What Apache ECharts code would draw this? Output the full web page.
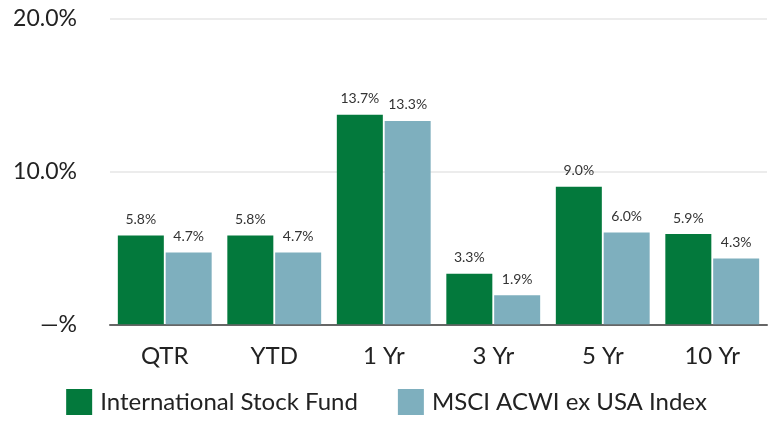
<!DOCTYPE html>
<html>
<head>
<meta charset="utf-8">
<script src="https://cdn.jsdelivr.net/npm/echarts@6/dist/echarts.min.js"></script>
<style>
  html, body { margin: 0; padding: 0; background: #fff; }
  #chart { width: 773px; height: 423px; }
</style>
</head>
<body>
<div id="chart"></div>
<script>
//Données
const categories = ['QTR', 'YTD', '1 Yr', '3 Yr', '5 Yr', '10 Yr'];
const fundValues = [5.8, 5.8, 13.7, 3.3, 9.0, 5.9];
const indexValues = [4.7, 4.7, 13.3, 1.9, 6.0, 4.3];
const seriesNames = ['International Stock Fund', 'MSCI ACWI ex USA Index'];
const yTickLabels = { 0: '—%', 10: '10.0%', 20: '20.0%' };

const font = 'Lato, "Open Sans", sans-serif';
const green = '#03793c';
const blue = '#7eafbe';

let chart = echarts.init(document.getElementById('chart'));

//Étiquettes au-dessus des barres
const barLabel = {
  show: true,
  position: 'top',
  distance: 9,
  fontFamily: font,
  fontSize: 14,
  color: '#333',
  formatter: p => p.value.toFixed(1) + '%'
};

chart.setOption({
  backgroundColor: '#fff',
  animation: false,
  grid: { left: 110, right: 6, top: 18.5, bottom: 98.7, containLabel: false },
  legend: {
    bottom: 3,
    left: 'center',
    itemWidth: 26,
    itemHeight: 26,
    itemGap: 40,
    icon: 'rect',
    textStyle: { fontFamily: font, fontSize: 24, color: '#222', padding: [0, 0, 0, 3] },
    data: seriesNames
  },
  xAxis: {
    type: 'category',
    data: categories,
    axisLine: { lineStyle: { color: '#666', width: 2 } },
    axisTick: { show: false },
    axisLabel: { fontFamily: font, fontSize: 24, color: '#222', margin: 20 }
  },
  yAxis: {
    type: 'value',
    min: 0,
    max: 20,
    interval: 10,
    axisLine: { show: false },
    axisTick: { show: false },
    splitLine: { lineStyle: { color: '#e6e6e6', width: 1.5 } },
    axisLabel: {
      fontFamily: font,
      fontSize: 23,
      color: '#222',
      margin: 33,
      formatter: v => yTickLabels[v] ?? ''
    }
  },
  series: [
    {
      name: seriesNames[0],
      type: 'bar',
      data: fundValues,
      barWidth: 46,
      barGap: '4%',
      itemStyle: { color: green },
      label: barLabel
    },
    {
      name: seriesNames[1],
      type: 'bar',
      data: indexValues,
      barWidth: 46,
      barGap: '4%',
      itemStyle: { color: blue },
      label: barLabel
    }
  ]
});

window.addEventListener('resize', () => chart.resize());
</script>
</body>
</html>
